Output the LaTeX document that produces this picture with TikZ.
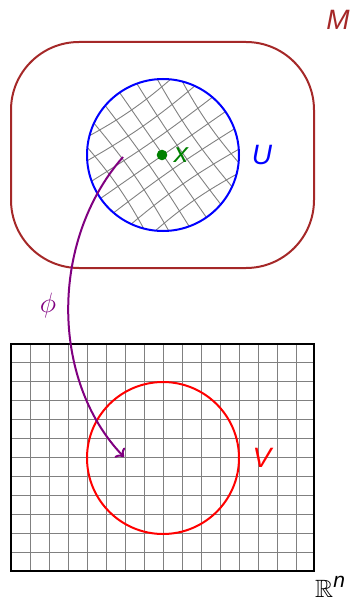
\RequirePackage{fix-cm}
\documentclass[tikz,border=0pt]{standalone}
\usepackage{amsmath,amssymb}
\usepackage{fontspec}
\setsansfont{Liberation Sans}
\usepackage{xcolor}
\usepackage{tikz}
\usetikzlibrary{arrows.meta, calc, positioning}
\definecolor{mancolor}{RGB}{165,40,40}
\definecolor{chartcolor}{RGB}{0,0,255}
\definecolor{ptcolor}{RGB}{0,128,0}
\definecolor{imgcolor}{RGB}{255,0,0}
\definecolor{mapcolor}{RGB}{128,0,128}
\newcommand{\lab}{\fontsize{28}{32}\selectfont\sffamily\itshape}
\tikzset{
  manifold/.style={draw=mancolor, line width=2pt, rounded corners=68pt},
  chart/.style={circle, draw=chartcolor, line width=2pt, minimum size=152pt, inner sep=0pt},
  image/.style={circle, draw=imgcolor, line width=2pt, minimum size=152pt, inner sep=0pt},
  warp/.style={gray, line width=0.9pt},
  flatgrid/.style={gray, line width=0.9pt},
  labelnode/.style={font=\lab, inner sep=0pt},
}

\begin{document}
\begin{tikzpicture}[x=1pt, y=-1pt]
  \useasboundingbox (0,0) rectangle (359,604);

  %% ── the manifold M ──
  \draw[manifold] (11,42) rectangle (314,268);
  \node[labelnode, text=mancolor] (Mlab) at (338,20) {M};

  %% ── warped grid inside U ──
  \begin{scope}
    \clip (163,155) circle (76);
    \foreach \s in {-136,-119,...,136} {
      \draw[warp] plot[domain=-130:130, samples=40, variable=\t]
        ({163 + (1+0.3*((\s/100)^2+(\t/100)^2))*(0.82*\t+0.57*\s)},
         {155 + (1+0.3*((\s/100)^2+(\t/100)^2))*(-0.57*\t+0.82*\s)});
      \draw[warp] plot[domain=-130:130, samples=40, variable=\t]
        ({163 + (1+0.3*((\s/100)^2+(\t/100)^2))*(0.82*\s+0.57*\t)},
         {155 + (1+0.3*((\s/100)^2+(\t/100)^2))*(-0.57*\s+0.82*\t)});
    }
  \end{scope}

  %% ── chart domain U and the point x ──
  \node[chart] (U) at (163,155) {};
  \node[labelnode, text=chartcolor] (Ulab) at (262,155) {U};
  \coordinate (x) at (162,155);
  \fill[ptcolor] (x) circle (5.3);
  \node[labelnode, text=ptcolor] (xlab) at (181,155) {x};

  %% ── flat space R^n ──
  \foreach \i in {1,...,15}
    \draw[flatgrid] (11+\i*19,344) -- (11+\i*19,571);
  \foreach \j in {1,...,11}
    \draw[flatgrid] (11,344+\j*227/12) -- (314,344+\j*227/12);
  \draw[black, line width=2.2pt] (11,344) rectangle (314,571);
  \node[labelnode, anchor=south west] (Rlab) at (315,598)
    {\fontsize{25}{28}\selectfont$\mathbb{R}$\raisebox{10pt}{\fontsize{21}{24}\selectfont\sffamily\itshape n}};

  %% ── image V ──
  \node[image] (V) at (163,458) {};
  \node[labelnode, text=imgcolor] (Vlab) at (262,458) {V};

  %% ── the chart map phi ──
  \coordinate (src) at (123,157);
  \coordinate (dst) at (124,457);
  \draw[mapcolor, line width=2pt, -{To[length=7pt, width=14pt]}]
    (src) .. controls (50,240) and (50,380) .. (dst);
  \node[labelnode, text=mapcolor, font=\fontsize{28}{32}\selectfont] (philab) at (48,305) {$\phi$};
\end{tikzpicture}
\end{document}
